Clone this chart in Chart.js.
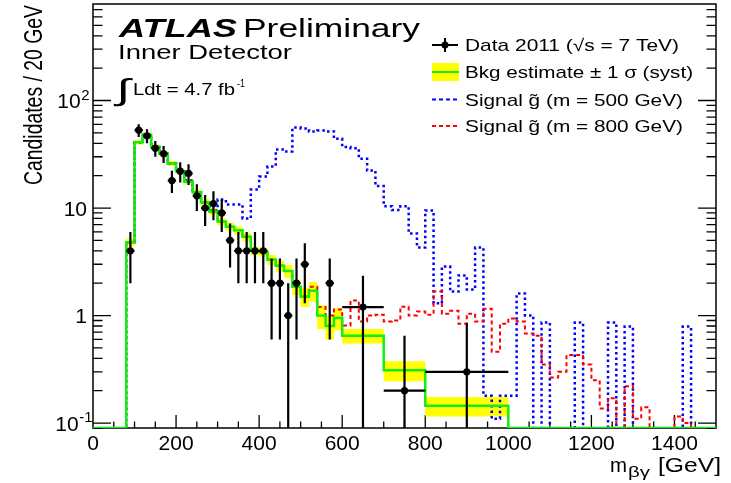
<!DOCTYPE html>
<html>
<head>
<meta charset="utf-8">
<script src="https://cdn.jsdelivr.net/npm/chart.js@4.4.1/dist/chart.umd.min.js"></script>
<style>
  html, body { margin: 0; padding: 0; background: #fff; }
  #c { display: block; }
</style>
</head>
<body>
<canvas id="c" width="731" height="483" style="width:731px;height:483px"></canvas>
<script>
// axis ticks
const xTicks = [0, 200, 400, 600, 800, 1000, 1200, 1400];
const yTicks = [0.1, 1, 10, 100];
const yTickLabels = [['10', '-1'], ['1', ''], ['10', ''], ['10', '2']];
const yMin = 0.09, yMax = 790;

// background estimate (bin edges in GeV, value per 20 GeV, syst error)
const bkgEdges = [80, 100, 120, 140, 160, 180, 200, 220, 240, 260, 280, 300, 320, 340, 360,
  380, 400, 420, 440, 460, 480, 500, 520, 540, 560, 580, 600, 700, 800, 1000];
const bkgValues = [4.8, 41, 48, 37, 32, 26, 22, 17.6, 14, 11.3, 9.3, 7.5, 6.7, 6.2, 5.4,
  4.0, 3.9, 3.3, 2.9, 2.6, 1.85, 1.5, 1.7, 1.0, 0.8, 0.95, 0.65, 0.31, 0.145];
const bkgErr = [0.4, 2.0, 2.4, 1.9, 1.6, 1.4, 1.2, 1.0, 0.9, 0.8, 0.7, 0.6, 0.6, 0.55, 0.5,
  0.35, 0.35, 0.35, 0.35, 0.35, 0.3, 0.3, 0.35, 0.25, 0.2, 0.22, 0.1, 0.065, 0.03];

// data 2011
const dataX = [90, 110, 130, 150, 170, 190, 210, 230, 250, 270, 290, 310, 330, 350, 370,
  390, 410, 430, 450, 470, 490, 510, 570, 650, 750, 900];
const dataY = [4, 53, 47, 36, 32, 18, 22, 21, 13, 10, 11, 9, 5, 4, 4,
  4, 4, 2, 2, 1, 2, 3, 2, 1.2, 0.2, 0.3];
const dataErr = [2, 7.3, 6.9, 6, 5.7, 4.2, 4.7, 4.6, 3.6, 3.2, 3.3, 3, 2.2, 2, 2,
  2, 2, 1.4, 1.4, 1, 1.4, 1.7, 1.4, 1.15, 0.45, 0.55];
const dataXErr = [10, 10, 10, 10, 10, 10, 10, 10, 10, 10, 10, 10, 10, 10, 10,
  10, 10, 10, 10, 10, 10, 10, 10, 50, 50, 100];

// signal histograms, 20 GeV bins starting at 80 GeV
const sigStart = 80, sigWidth = 20;
const sig500 = [
  4.8, 41, 48, 37, 32, 26, 22, 18, 14, 11.3,
  9.5, 12, 10.8, 10.8, 8.0, 14.9, 19.6, 24.3, 35, 33.6,
  56, 55, 51.5, 52.5, 51.5, 44, 37, 36, 28.8, 22.3,
  16, 10.4, 9.6, 10.4, 5.8, 4.3, 9.5, 1.3, 2.86, 1.67,
  2.36, 1.75, 4.3, 0.18, 0.11, 0.18, 0.18, 1.6, 1.0, 0,
  0.86, 0, 0, 0, 0.86, 0, 0, 0, 0.86, 0,
  0.79, 0, 0, 0, 0, 0, 0, 0.79, 0, 0,
  0];
const sig800 = [
  4.8, 41, 48, 37, 32, 26, 22, 17.6, 14, 11.3,
  9.3, 7.5, 6.7, 6.2, 5.4, 4.0, 3.9, 3.3, 2.9, 2.6,
  1.85, 1.5, 1.85, 1.2, 1.0, 1.14, 0.81, 1.38, 0.88, 1.0,
  1.02, 0.88, 0.9, 1.21, 1.0, 1.09, 1.02, 1.67, 1.04, 1.11,
  0.84, 1.04, 0.88, 1.16, 0.46, 0.84, 0.94, 0.88, 0.68, 0.65,
  0.35, 0.265, 0.30, 0.43, 0.43, 0.35, 0.25, 0.137, 0.17, 0,
  0.22, 0.11, 0.14, 0, 0, 0, 0.115, 0.1, 0, 0,
  0];

const FONT = "'Liberation Sans', Arial, Helvetica, sans-serif";
const GREEN = '#11ee11', YELLOW = '#ffff00';
const FLOOR = 1e-4;

const sigEdges = [];
for (let i = 0; i <= sig500.length; i++) sigEdges.push(sigStart + i * sigWidth);

// step points: each point sits on a bin's low edge; stepped:'before' draws horizontal first
function steps(edges, vals, floor) {
  const pts = [{ x: edges[0], y: floor }];
  vals.forEach((v, i) => pts.push({ x: edges[i], y: v > 0 ? v : floor }));
  const last = vals[vals.length - 1];
  pts.push({ x: edges[edges.length - 1], y: last > 0 ? last : floor });
  pts.push({ x: edges[edges.length - 1], y: floor });
  return pts;
}
function bandPts(sign) {
  const pts = bkgValues.map((v, i) => ({ x: bkgEdges[i], y: v + sign * bkgErr[i] }));
  pts.push({ x: bkgEdges[bkgEdges.length - 1], y: pts[pts.length - 1].y });
  return pts;
}
const bkgLine = [{ x: 0, y: yMin }].concat(steps(bkgEdges, bkgValues, yMin), [{ x: 1500, y: yMin }]);

function fitText(ctx, txt, x, y, size, w, style) {
  ctx.font = (style ? style + ' ' : '') + size + 'px ' + FONT;
  const m = ctx.measureText(txt).width;
  ctx.save();
  ctx.translate(x, y);
  ctx.scale(w / m, 1);
  ctx.textAlign = 'left';
  ctx.textBaseline = 'alphabetic';
  ctx.fillText(txt, 0, 0);
  ctx.restore();
}

const errorBars = {
  id: 'errorBars',
  afterDatasetsDraw(chart) {
    const { ctx, chartArea: a, scales: { x, y } } = chart;
    ctx.save();
    ctx.beginPath();
    ctx.rect(a.left, a.top, a.right - a.left, a.bottom - a.top);
    ctx.clip();
    ctx.strokeStyle = '#000';
    ctx.lineWidth = 2.2;
    dataX.forEach((xv, i) => {
      const px = x.getPixelForValue(xv), py = y.getPixelForValue(dataY[i]);
      const lo = dataY[i] - dataErr[i];
      const pLo = lo > 0 ? y.getPixelForValue(lo) : a.bottom;
      const pHi = y.getPixelForValue(dataY[i] + dataErr[i]);
      ctx.beginPath();
      ctx.moveTo(px, pHi); ctx.lineTo(px, pLo);
      ctx.moveTo(x.getPixelForValue(xv - dataXErr[i]), py);
      ctx.lineTo(x.getPixelForValue(xv + dataXErr[i]), py);
      ctx.stroke();
    });
    ctx.restore();
  }
};

const frame = {
  id: 'frame',
  beforeDatasetsDraw(chart) {
    const { ctx, chartArea: a, scales: { x, y } } = chart;
    ctx.save();
    ctx.strokeStyle = '#000';
    ctx.lineWidth = 1.5;
    ctx.strokeRect(a.left, a.top, a.right - a.left, a.bottom - a.top);
    ctx.lineWidth = 1.3;
    ctx.beginPath();
    for (let d = -2; d <= 2; d++) {
      for (let k = 1; k <= 9; k++) {
        const v = k * Math.pow(10, d);
        if (v < yMin || v > yMax) continue;
        const py = y.getPixelForValue(v), L = k === 1 ? 18 : 9.5;
        ctx.moveTo(a.left, py); ctx.lineTo(a.left + L, py);
        ctx.moveTo(a.right, py); ctx.lineTo(a.right - L, py);
      }
    }
    for (let v = 50; v < 1500; v += 50) {
      const px = x.getPixelForValue(v), L = v % 200 === 0 ? 13 : 6.5;
      ctx.moveTo(px, a.bottom); ctx.lineTo(px, a.bottom - L);
    }
    ctx.stroke();
    ctx.restore();
  }
};

const labels = {
  id: 'labels',
  afterDraw(chart) {
    const { ctx, scales: { y } } = chart;
    ctx.save();
    ctx.fillStyle = '#000';

    // y tick labels with superscripts
    yTicks.forEach((v, i) => {
      const py = y.getPixelForValue(v);
      const [base, sup] = yTickLabels[i];
      ctx.font = '21px ' + FONT;
      const wb = ctx.measureText(base).width;
      ctx.font = '15px ' + FONT;
      const ws = sup ? ctx.measureText(sup).width : 0;
      const right = sup ? (sup === '2' ? 89 : 92) : 87;
      const x0 = right - ws - wb;
      ctx.font = '21px ' + FONT;
      ctx.textAlign = 'left';
      ctx.textBaseline = 'alphabetic';
      ctx.fillText(base, x0, py + 7.5);
      if (sup) { ctx.font = '15px ' + FONT; ctx.fillText(sup, x0 + wb + 0.5, py - 1); }
    });

    // ATLAS label
    fitText(ctx, 'ATLAS', 119, 37, 26, 118, 'italic bold');
    fitText(ctx, 'Preliminary', 243, 37, 26, 177);
    fitText(ctx, 'Inner Detector', 118, 59, 20, 174);
    fitText(ctx, '\u222B', 116, 100, 30, 14);
    fitText(ctx, 'Ldt = 4.7 fb', 133, 95, 16, 102);
    fitText(ctx, '-1', 237, 87, 11, 8);

    // legend
    ctx.strokeStyle = '#000';
    ctx.lineWidth = 2;
    ctx.beginPath();
    ctx.moveTo(432, 45); ctx.lineTo(458, 45);
    ctx.moveTo(445, 38); ctx.lineTo(445, 52);
    ctx.stroke();
    ctx.beginPath(); ctx.arc(445, 45, 3.5, 0, Math.PI * 2); ctx.fill();
    ctx.fillStyle = YELLOW;
    ctx.fillRect(432, 63, 27, 18);
    ctx.strokeStyle = GREEN;
    ctx.beginPath(); ctx.moveTo(432, 72); ctx.lineTo(459, 72); ctx.stroke();
    ctx.setLineDash([4, 3]);
    ctx.strokeStyle = '#0000ff';
    ctx.beginPath(); ctx.moveTo(432, 99.5); ctx.lineTo(458, 99.5); ctx.stroke();
    ctx.strokeStyle = '#ff0000';
    ctx.beginPath(); ctx.moveTo(432, 126); ctx.lineTo(458, 126); ctx.stroke();
    ctx.setLineDash([]);
    ctx.fillStyle = '#000';
    fitText(ctx, 'Data 2011 (\u221As = 7 TeV)', 465, 51, 17, 214);
    fitText(ctx, 'Bkg estimate \u00B1 1 \u03C3 (syst)', 465, 77.5, 17, 228);
    fitText(ctx, 'Signal g\u0303 (m = 500 GeV)', 465, 106, 17, 218);
    fitText(ctx, 'Signal g\u0303 (m = 800 GeV)', 465, 132, 17, 218);

    // x axis title
    fitText(ctx, 'm', 610, 472, 20, 17);
    fitText(ctx, '\u03B2\u03B3', 628, 477, 14, 22);
    fitText(ctx, '[GeV]', 658, 472, 20, 63);

    // y axis title (rotated)
    const yt = 'Candidates / 20 GeV';
    ctx.font = '20px ' + FONT;
    const m = ctx.measureText(yt).width;
    ctx.save();
    ctx.translate(42, 185);
    ctx.scale(1.25, 1);
    ctx.rotate(-Math.PI / 2);
    ctx.scale(180 / m, 1);
    ctx.textAlign = 'left';
    ctx.textBaseline = 'alphabetic';
    ctx.fillText(yt, 0, 0);
    ctx.restore();

    ctx.restore();
  }
};

new Chart(document.getElementById('c'), {
  type: 'line',
  data: {
    datasets: [
      { label: 'Data', data: dataX.map((x, i) => ({ x, y: dataY[i] })), showLine: false,
        pointRadius: 3.6, pointHoverRadius: 0, pointBackgroundColor: '#000', pointBorderColor: '#000', pointBorderWidth: 0 },
      { label: 'Bkg', data: bkgLine, borderColor: GREEN, borderWidth: 2.5, pointRadius: 0,
        stepped: 'before', fill: false },
      { label: 'Signal 800', data: steps(sigEdges, sig800, FLOOR), borderColor: '#ff0000', borderWidth: 2,
        borderDash: [4, 3], pointRadius: 0, stepped: 'before', fill: false },
      { label: 'Signal 500', data: steps(sigEdges, sig500, FLOOR), borderColor: '#0000ff', borderWidth: 2.5,
        borderDash: [2.5, 3], pointRadius: 0, stepped: 'before', fill: false },
      { label: 'band low', data: bandPts(-1), borderColor: 'rgba(0,0,0,0)', pointRadius: 0,
        stepped: 'before', fill: false },
      { label: 'band high', data: bandPts(1), borderColor: 'rgba(0,0,0,0)', pointRadius: 0,
        stepped: 'before', fill: '-1', backgroundColor: YELLOW }
    ]
  },
  options: {
    responsive: false,
    animation: false,
    devicePixelRatio: 1,
    events: [],
    layout: { padding: { top: 4, right: 15, left: 0, bottom: 0 } },
    plugins: { legend: { display: false }, tooltip: { enabled: false } },
    scales: {
      x: {
        type: 'linear', min: 0, max: 1500,
        grid: { display: false, drawTicks: false },
        border: { display: false },
        afterBuildTicks: s => { s.ticks = xTicks.map(v => ({ value: v })); },
        afterFit: s => { s.height = 55; },
        ticks: { color: '#000', font: { family: FONT, size: 21 }, padding: 4,
          maxRotation: 0, autoSkip: false, callback: v => String(v) }
      },
      y: {
        type: 'logarithmic', min: yMin, max: yMax,
        grid: { display: false, drawTicks: false },
        border: { display: false },
        afterBuildTicks: s => { s.ticks = yTicks.map(v => ({ value: v })); },
        afterFit: s => { s.width = 93; },
        ticks: { display: false }
      }
    }
  },
  plugins: [frame, errorBars, labels]
});
</script>
</body>
</html>
